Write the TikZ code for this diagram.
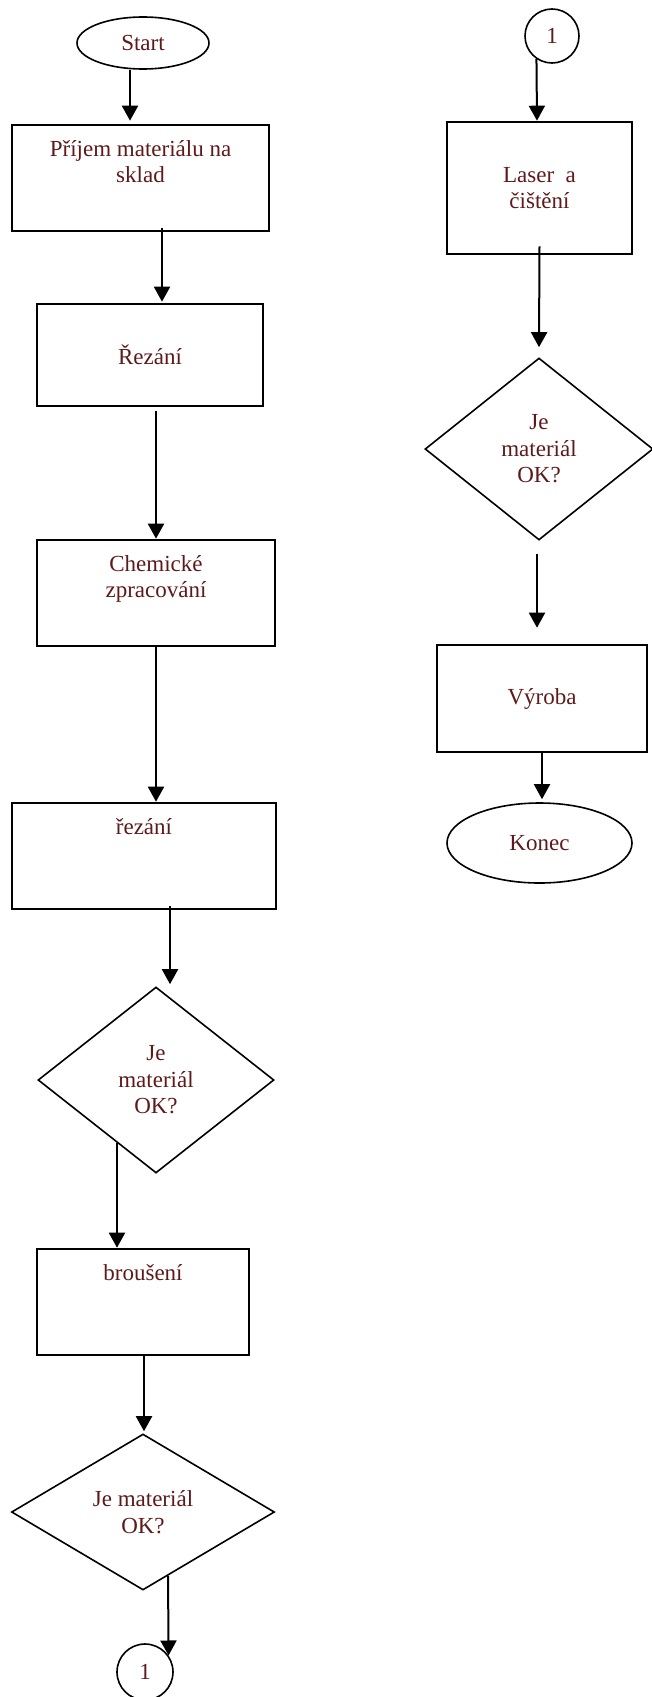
\documentclass[tikz,border=0pt]{standalone}
\usepackage{fontspec}
\setmainfont{Liberation Serif}
\usepackage{tikz}
\usetikzlibrary{arrows.meta,shapes.geometric}
\definecolor{pismo}{HTML}{5E1A1A}
\tikzset{
  krok/.style={draw,line width=2.6pt,rectangle,inner sep=0pt,align=center,text=pismo,font=\fontsize{23}{26.5}\selectfont},
  rozhodnuti/.style={draw,line width=1.6pt,diamond,aspect=1.3,inner sep=0pt,align=center,text=pismo,font=\fontsize{23}{26.5}\selectfont},
  mez/.style={draw,line width=1.6pt,ellipse,inner sep=0pt,text=pismo,font=\fontsize{23}{26.5}\selectfont},
  spojka/.style={draw,line width=1.6pt,circle,inner sep=0pt,text=pismo,font=\fontsize{23}{26.5}\selectfont},
  sipka/.style={line width=2pt,-{Triangle[length=15pt,width=16pt]}}
}
% text u horniho okraje krabice
\newcommand{\nahore}[3]{\parbox[c][#2][t]{#1}{\centering\vspace*{12.5pt}\strut #3}}

\begin{document}
\begin{tikzpicture}[x=1pt,y=-1pt]
\useasboundingbox (0,0) rectangle (652,1697);

% levy sloupec
\node[mez,minimum width=132pt,minimum height=52pt] (start) at (143,43) {Start};
\node[krok] (prijem) at (140.5,178) {\nahore{257pt}{106pt}{Příjem materiálu na\\sklad}};
\node[krok,minimum width=226pt,minimum height=102pt] (rezani) at (150,355) {Řezání};
\node[krok] (chemie) at (156,593) {\nahore{238pt}{106pt}{Chemické\\zpracování}};
\node[krok] (rezani2) at (144,856) {\nahore{264pt}{106pt}{řezání}};
\node[rozhodnuti,minimum width=236pt,minimum height=186pt] (kontrola1) at (156,1080) {Je\\materiál\\OK?};
\node[krok] (brouseni) at (143,1302) {\nahore{212pt}{106pt}{broušení}};
\node[rozhodnuti,minimum width=263pt,minimum height=156pt] (kontrola2) at (143,1512) {Je materiál\\OK?};
\node[spojka,minimum size=56pt] (spoj2) at (145,1672) {1};

% pravy sloupec
\node[spojka,minimum size=54pt] (spoj1) at (552,36) {1};
\node[krok,minimum width=185pt,minimum height=132pt] (laser) at (539.5,188) {Laser\ \ a\\čištění};
\node[rozhodnuti,minimum width=228pt,minimum height=182pt] (kontrola3) at (539,449) {Je\\materiál\\OK?};
\node[krok,minimum width=210pt,minimum height=107pt] (vyroba) at (542,698.5) {Výroba};
\node[mez,minimum width=185pt,minimum height=80pt] (konec) at (539.5,843) {Konec};

% sipky
\draw[sipka] ([xshift=-13pt]start.south) -- ([xshift=-10.5pt,yshift=3pt]prijem.north);
\draw[sipka] ([xshift=21.5pt,yshift=4pt]prijem.south) -- ([xshift=12pt,yshift=1pt]rezani.north);
\draw[sipka] ([xshift=6pt,yshift=-4pt]rezani.south) -- (chemie.north);
\draw[sipka] (chemie.south) -- ([xshift=12pt]rezani2.north);
\draw[sipka] ([xshift=26pt,yshift=4pt]rezani2.south) -- ([xshift=14pt,yshift=2pt]kontrola1.north);
\draw[sipka] ([xshift=-39pt,yshift=31pt]kontrola1.south) -- ([xshift=-26pt]brouseni.north);
\draw[sipka] ([xshift=1pt]brouseni.south) -- ([xshift=1pt,yshift=2pt]kontrola2.north);
\draw[sipka] ([xshift=25pt,yshift=15pt]kontrola2.south) -- (spoj2.35);

\draw[sipka] (spoj1.236) -- ([xshift=-2.5pt]laser.north);
\draw[sipka] ([yshift=9pt]laser.south) -- ([yshift=10pt]kontrola3.north);
\draw[sipka] ([xshift=-2pt,yshift=-13pt]kontrola3.south) -- ([xshift=-5pt,yshift=16pt]vyroba.north);
\draw[sipka] (vyroba.south) -- ([xshift=2.5pt,yshift=3pt]konec.north);
\end{tikzpicture}
\end{document}
